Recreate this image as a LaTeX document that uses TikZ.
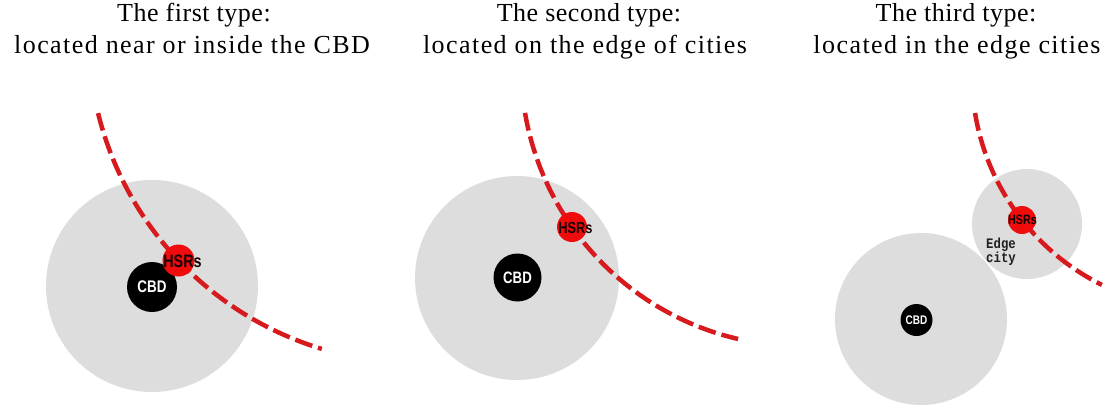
\documentclass[tikz,border=0pt]{standalone}
\usepackage{fontspec}
\setmainfont{Liberation Serif}
\newfontfamily\headfont[LetterSpace=2]{Liberation Serif}
\newfontfamily\subheadfont[LetterSpace=5.5]{Liberation Serif}
\newfontfamily\tagfont[FakeStretch=0.8]{Liberation Sans}
\newfontfamily\edgefont[FakeStretch=0.85]{Liberation Mono}

\definecolor{cityfill}{RGB}{221,221,221}
\definecolor{hsrred}{RGB}{240,12,12}
\definecolor{railred}{RGB}{214,26,30}

\tikzset{
  head/.style={anchor=base, inner sep=0pt, font=\headfont\fontsize{26}{30}\selectfont},
  subhead/.style={anchor=base, inner sep=0pt, font=\subheadfont\fontsize{26}{30}\selectfont},
  city/.style={circle, fill=cityfill, inner sep=0pt},
  cbd/.style={circle, fill=black, inner sep=0pt, text=white},
  hsr/.style={circle, fill=hsrred, inner sep=0pt},
  hsrtag/.style={inner sep=0pt, text=black!90!red},
  edgetag/.style={anchor=base west, inner sep=0pt, text=black!88,
    font=\edgefont\bfseries\fontsize{14.5}{15}\selectfont},
  rail/.style={draw=railred, line width=4.5pt, dash pattern=on 18pt off 6pt}
}

\begin{document}
\begin{tikzpicture}[x=1pt, y=-1pt]
\useasboundingbox (0,0) rectangle (1103,407);

% headings
\node[head]    (h1a) at (194,21) {The first type:};
\node[subhead] (h1b) at (192,53) {located near or inside the CBD};
\node[head]    (h2a) at (589,21) {The second type:};
\node[subhead] (h2b) at (585,53) {located on the edge of cities};
\node[head]    (h3a) at (956,21) {The third type:};
\node[subhead] (h3b) at (957,53) {located in the edge cities};

% first type: station next to the CBD
\node[city, minimum size=212pt] (city1) at (152,286) {};
\node[cbd, minimum size=50pt, font=\tagfont\bfseries\fontsize{16.8}{18}\selectfont] (cbd1) at (152,287) {CBD};
\draw[rail] plot[domain=166.2:106.8, samples=90] ({416.6+328*cos(\x)}, {34.9+328*sin(\x)});
\node[hsr, minimum size=32pt] (hsr1) at (178.5,260.5) {};
\node[hsrtag, font=\tagfont\bfseries\fontsize{18}{20}\selectfont] (hsrt1) at (182.5,261) {HSRs};

% second type: station on the city edge
\node[city, minimum size=204pt] (city2) at (517,278) {};
\node[cbd, minimum size=48pt, font=\tagfont\bfseries\fontsize{16.5}{18}\selectfont] (cbd2) at (517.5,277.5) {CBD};
\draw[rail] plot[domain=170.3:103.1, samples=90] ({801.7+280.7*cos(\x)}, {65.6+280.7*sin(\x)});
\node[hsr, minimum size=30pt] (hsr2) at (572,227) {};
\node[hsrtag, font=\tagfont\bfseries\fontsize{16}{18}\selectfont] (hsrt2) at (575.5,227.5) {HSRs};

% third type: station in an edge city
\node[city, minimum size=172pt] (city3) at (921,319) {};
\node[city, minimum size=110pt] (edge3) at (1027,224) {};
\node[cbd, minimum size=32pt, font=\tagfont\bfseries\fontsize{12.5}{14}\selectfont] (cbd3) at (916.5,320) {CBD};
\draw[rail] plot[domain=170.75:116.4, samples=90] ({1205.9+233.9*cos(\x)}, {75.4+233.9*sin(\x)});
\node[hsr, minimum size=28pt] (hsr3) at (1022,220) {};
\node[hsrtag, font=\tagfont\bfseries\fontsize{13.5}{15}\selectfont] (hsrt3) at (1022.5,220) {HSRs};
\node[edgetag] (edgeA) at (986,248) {Edge};
\node[edgetag] (edgeB) at (986,262) {city};
\end{tikzpicture}
\end{document}
